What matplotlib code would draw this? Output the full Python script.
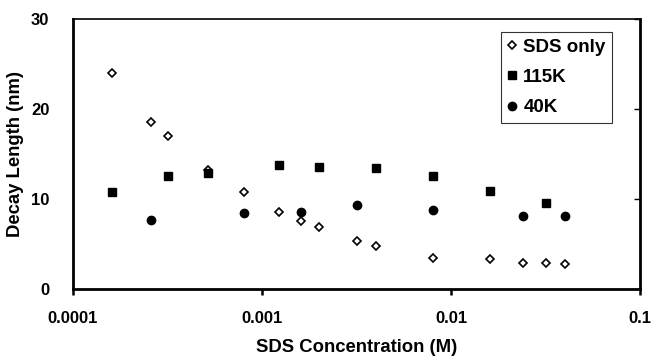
import matplotlib.pyplot as plt
from matplotlib.ticker import FixedLocator, FixedFormatter, NullLocator

plt.rcParams["font.family"] = ["Liberation Sans", "DejaVu Sans"]
plt.rcParams["font.weight"] = "bold"

# SDS only (open diamonds)
sds_conc = [0.00016, 0.00026, 0.00032, 0.00052, 0.0008, 0.00123, 0.0016,
            0.002, 0.0032, 0.004, 0.008, 0.016, 0.024, 0.032, 0.040]
sds_decay = [24.0, 18.6, 17.0, 13.2, 10.8, 8.6, 7.6, 6.9, 5.3, 4.8, 3.4, 3.3,
             2.9, 2.9, 2.8]

# 115K (filled squares)
k115_conc = [0.00016, 0.00032, 0.00052, 0.00123, 0.002, 0.004, 0.008, 0.016,
             0.032]
k115_decay = [10.8, 12.6, 12.9, 13.8, 13.5, 13.4, 12.6, 10.9, 9.6]

# 40K (filled circles)
k40_conc = [0.00026, 0.0008, 0.0016, 0.0032, 0.008, 0.024, 0.040]
k40_decay = [7.7, 8.4, 8.6, 9.3, 8.8, 8.1, 8.1]

x_ticks = [0.0001, 0.001, 0.01, 0.1]
x_labels = ["0.0001", "0.001", "0.01", "0.1"]
y_ticks = [0, 10, 20, 30]

fig = plt.figure(figsize=(6.53, 3.58), dpi=100)
ax = fig.add_axes([0.1118, 0.1927, 0.8682, 0.7543])

ax.plot(sds_conc, sds_decay, "D", ms=4.2, mfc="white", mec="black", mew=1.2,
        ls="none", label="SDS only", zorder=2)
ax.plot(k115_conc, k115_decay, "s", ms=6, color="black", ls="none",
        label="115K", zorder=3)
ax.plot(k40_conc, k40_decay, "o", ms=6, color="black", ls="none",
        label="40K", zorder=3)

ax.set_xscale("log")
ax.set_xlim(0.0001, 0.1)
ax.set_ylim(0, 30)
ax.xaxis.set_major_locator(FixedLocator(x_ticks))
ax.xaxis.set_major_formatter(FixedFormatter(x_labels))
ax.xaxis.set_minor_locator(NullLocator())
ax.set_yticks(y_ticks)

for side in ("left", "bottom", "right"):
    ax.spines[side].set_linewidth(2)
ax.spines["top"].set_linewidth(1.2)

ax.tick_params(axis="x", direction="out", length=4, width=1.8,
               labelsize=12, pad=12)
ax.tick_params(axis="y", left=False, right=True, direction="in", length=4,
               width=1, labelleft=True, labelsize=12, pad=17)

ax.set_xlabel("SDS Concentration (M)", fontsize=13.3, fontweight="bold",
              labelpad=9)
ax.set_ylabel("Decay Length (nm)", fontsize=13.3, fontweight="bold",
              labelpad=5)

leg = ax.legend(loc="upper right", bbox_to_anchor=(0.951, 0.952),
                fontsize=13.5, frameon=True, fancybox=False,
                edgecolor="black", handlelength=0.5, handletextpad=0.35,
                labelspacing=0.7, borderpad=0.35, borderaxespad=0)
leg.get_frame().set_linewidth(0.8)

fig.savefig("out.png", dpi=100)
